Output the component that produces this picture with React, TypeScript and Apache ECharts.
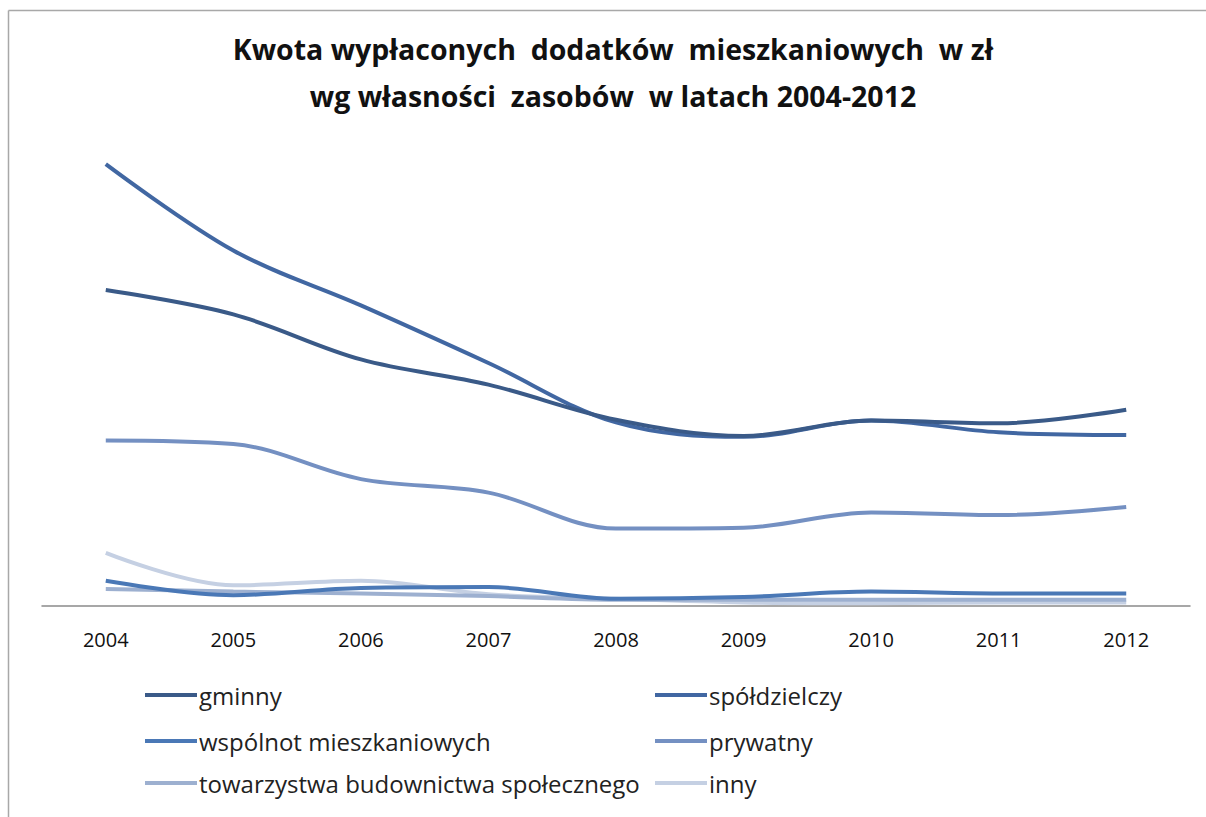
import React, { useEffect, useRef } from "react";
import * as echarts from "echarts";

const years = ["2004", "2005", "2006", "2007", "2008", "2009", "2010", "2011", "2012"];
const gminny = [35.1, 32.4, 27.4, 24.6, 20.7, 18.9, 20.6, 20.3, 21.8];
const spoldzielczy = [49.1, 39.5, 33.4, 27.0, 20.4, 18.8, 20.6, 19.3, 19.0];
const wspolnot = [2.8, 1.2, 2.0, 2.1, 0.8, 1.0, 1.6, 1.4, 1.4];
const prywatny = [18.4, 18.0, 14.1, 12.6, 8.6, 8.7, 10.4, 10.1, 11.0];
const towarzystwa = [1.9, 1.6, 1.4, 1.1, 0.7, 0.7, 0.7, 0.7, 0.7];
const inny = [5.9, 2.3, 2.8, 1.3, 0.8, 0.4, 0.3, 0.4, 0.4];

const seriesNames = [
  "gminny",
  "spółdzielczy",
  "wspólnot mieszkaniowych",
  "prywatny",
  "towarzystwa budownictwa społecznego",
  "inny",
];
const seriesData = [gminny, spoldzielczy, wspolnot, prywatny, towarzystwa, inny];
const colors = ["#3A5A88", "#4167A2", "#4A78B6", "#7490C2", "#9DB0D0", "#C5D0E3"];

export default function App() {
  const ref = useRef<HTMLDivElement>(null);
  useEffect(() => {
    if (!ref.current) return;
    const prevOverflow = document.body.style.overflow;
    document.body.style.overflow = "hidden";
    const chart = echarts.init(ref.current, undefined, { renderer: "svg" });
    const font = "'Open Sans', 'Noto Sans', sans-serif";
    const rowTops = [678, 724, 766];
    const colLefts = [140, 650];
    const legends = seriesNames.map((name, i) => ({
      data: [name],
      orient: "horizontal",
      left: colLefts[i % 2],
      top: rowTops[Math.floor(i / 2)],
      itemWidth: 52,
      itemHeight: 4,
      icon: "rect",
      textStyle: { fontFamily: font, fontSize: 24, color: "#222222", padding: [0, 0, 0, -3] },
    }));
    chart.setOption({
      animation: false,
      backgroundColor: "#ffffff",
      title: {
        text: "Kwota wypłaconych  dodatków  mieszkaniowych  w zł\nwg własności  zasobów  w latach 2004-2012",
        left: 608,
        textAlign: "center",
        top: 20,
        textStyle: {
          fontFamily: font,
          fontWeight: "bold",
          fontSize: 28.5,
          lineHeight: 47,
          color: "#111111",
        },
      },
      legend: legends,
      grid: { left: 42, right: 16, top: 156, bottom: 211 },
      xAxis: {
        type: "category",
        data: years,
        boundaryGap: true,
        axisLine: { lineStyle: { color: "#8a8a8a", width: 1.5 } },
        axisTick: { show: false },
        axisLabel: { fontFamily: font, fontSize: 20, color: "#111111", margin: 23 },
      },
      yAxis: {
        type: "value",
        min: 0,
        max: 50,
        show: false,
        splitLine: { show: false },
      },
      graphic: [
        {
          type: "rect",
          shape: { x: 1196, y: 12, width: 10, height: 805 },
          style: { fill: "#ffffff" },
          z: 100,
          silent: true,
        },
        {
          type: "line",
          shape: { x1: 8.5, y1: 10.5, x2: 1206, y2: 10.5 },
          style: { stroke: "#a8a8a8", lineWidth: 1.5 },
          silent: true,
        },
        {
          type: "line",
          shape: { x1: 8.5, y1: 10.5, x2: 8.5, y2: 817 },
          style: { stroke: "#a8a8a8", lineWidth: 1.5 },
          silent: true,
        },
      ],
      series: seriesNames.map((name, i) => ({
        name,
        type: "line",
        data: seriesData[i],
        smooth: 0.35,
        showSymbol: false,
        symbol: "none",
        color: colors[i],
        lineStyle: { width: 4, color: colors[i] },
        z: 10 - i,
      })),
    });
    return () => {
      chart.dispose();
      document.body.style.overflow = prevOverflow;
    };
  }, []);
  return (
    <div
      ref={ref}
      style={{ position: "fixed", left: 0, top: 0, width: 1206, height: 817 }}
    />
  );
}
